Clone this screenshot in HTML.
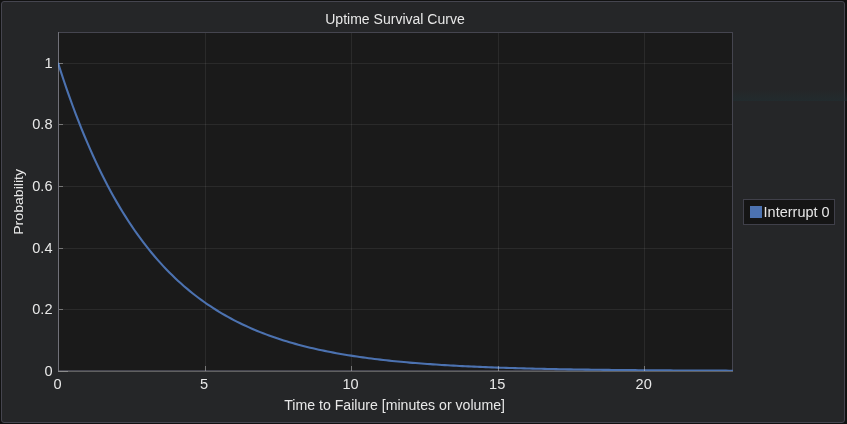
<!DOCTYPE html>
<html><head><meta charset="utf-8"><title>Uptime Survival Curve</title>
<style>
html,body{margin:0;padding:0;background:#111111;}
body{width:847px;height:424px;overflow:hidden;position:relative;font-family:"Liberation Sans",sans-serif;}
.panel{position:absolute;left:1px;top:1px;width:842px;height:420px;border:1px solid #45454f;border-radius:3px;background:#252628;}
svg{position:absolute;left:0;top:0;}
svg text{font-family:"Liberation Sans",sans-serif;font-size:14px;fill:#e8e8e8;}
</style></head><body>
<div class="panel"></div>
<svg width="847" height="424" viewBox="0 0 847 424">
<defs><linearGradient id="band" x1="0" y1="0" x2="0" y2="1"><stop offset="0" stop-color="#1f3034" stop-opacity="0"/><stop offset="1" stop-color="#1f3034" stop-opacity="0.5"/></linearGradient><clipPath id="plotclip"><rect x="58" y="32" width="675" height="340"/></clipPath></defs>
<rect x="733" y="89" width="114" height="12" fill="url(#band)"/>
<rect x="58.5" y="32.5" width="674" height="338" fill="#1a1a1a" stroke="#45454f" stroke-width="1"/>
<rect x="59" y="371" width="674" height="1" fill="#1a1a1a"/>
<g stroke="#ffffff" stroke-opacity="0.072" stroke-width="1" shape-rendering="crispEdges">
<line x1="205.5" y1="33" x2="205.5" y2="370" />
<line x1="351.5" y1="33" x2="351.5" y2="370" />
<line x1="498.5" y1="33" x2="498.5" y2="370" />
<line x1="644.5" y1="33" x2="644.5" y2="370" />
<line x1="59" y1="309.5" x2="732" y2="309.5" />
<line x1="59" y1="248.5" x2="732" y2="248.5" />
<line x1="59" y1="186.5" x2="732" y2="186.5" />
<line x1="59" y1="124.5" x2="732" y2="124.5" />
<line x1="59" y1="63.5" x2="732" y2="63.5" />
</g>
<path d="M58.00,62.82 L60.93,71.93 L63.86,80.77 L66.79,89.34 L69.72,97.67 L72.65,105.75 L75.58,113.58 L78.51,121.19 L81.44,128.58 L84.37,135.74 L87.30,142.69 L90.23,149.44 L93.17,155.99 L96.10,162.34 L99.03,168.51 L101.96,174.49 L104.89,180.30 L107.82,185.94 L110.75,191.41 L113.68,196.72 L116.61,201.87 L119.54,206.86 L122.47,211.72 L125.40,216.42 L128.33,220.99 L131.26,225.43 L134.19,229.73 L137.12,233.90 L140.05,237.95 L142.98,241.89 L145.91,245.70 L148.84,249.41 L151.77,253.00 L154.70,256.49 L157.63,259.87 L160.57,263.16 L163.50,266.34 L166.43,269.44 L169.36,272.44 L172.29,275.35 L175.22,278.18 L178.15,280.92 L181.08,283.58 L184.01,286.17 L186.94,288.67 L189.87,291.11 L192.80,293.47 L195.73,295.76 L198.66,297.98 L201.59,300.14 L204.52,302.24 L207.45,304.27 L210.38,306.24 L213.31,308.15 L216.24,310.01 L219.17,311.81 L222.10,313.56 L225.03,315.26 L227.97,316.91 L230.90,318.51 L233.83,320.06 L236.76,321.56 L239.69,323.02 L242.62,324.44 L245.55,325.82 L248.48,327.15 L251.41,328.45 L254.34,329.71 L257.27,330.93 L260.20,332.11 L263.13,333.26 L266.06,334.38 L268.99,335.46 L271.92,336.51 L274.85,337.53 L277.78,338.52 L280.71,339.48 L283.64,340.41 L286.57,341.31 L289.50,342.19 L292.43,343.04 L295.37,343.87 L298.30,344.67 L301.23,345.45 L304.16,346.20 L307.09,346.94 L310.02,347.65 L312.95,348.34 L315.88,349.01 L318.81,349.66 L321.74,350.29 L324.67,350.90 L327.60,351.49 L330.53,352.07 L333.46,352.63 L336.39,353.17 L339.32,353.70 L342.25,354.21 L345.18,354.71 L348.11,355.19 L351.04,355.66 L353.97,356.11 L356.90,356.55 L359.83,356.98 L362.77,357.39 L365.70,357.79 L368.63,358.18 L371.56,358.56 L374.49,358.93 L377.42,359.29 L380.35,359.63 L383.28,359.97 L386.21,360.30 L389.14,360.61 L392.07,360.92 L395.00,361.22 L397.93,361.51 L400.86,361.79 L403.79,362.06 L406.72,362.32 L409.65,362.58 L412.58,362.83 L415.51,363.07 L418.44,363.30 L421.37,363.53 L424.30,363.75 L427.23,363.97 L430.17,364.17 L433.10,364.38 L436.03,364.57 L438.96,364.76 L441.89,364.95 L444.82,365.13 L447.75,365.30 L450.68,365.47 L453.61,365.63 L456.54,365.79 L459.47,365.94 L462.40,366.09 L465.33,366.24 L468.26,366.38 L471.19,366.52 L474.12,366.65 L477.05,366.78 L479.98,366.90 L482.91,367.02 L485.84,367.14 L488.77,367.25 L491.70,367.36 L494.63,367.47 L497.57,367.58 L500.50,367.68 L503.43,367.78 L506.36,367.87 L509.29,367.96 L512.22,368.05 L515.15,368.14 L518.08,368.22 L521.01,368.31 L523.94,368.39 L526.87,368.46 L529.80,368.54 L532.73,368.61 L535.66,368.68 L538.59,368.75 L541.52,368.82 L544.45,368.88 L547.38,368.94 L550.31,369.00 L553.24,369.06 L556.17,369.12 L559.10,369.18 L562.03,369.23 L564.97,369.28 L567.90,369.33 L570.83,369.38 L573.76,369.43 L576.69,369.48 L579.62,369.52 L582.55,369.57 L585.48,369.61 L588.41,369.65 L591.34,369.69 L594.27,369.73 L597.20,369.77 L600.13,369.80 L603.06,369.84 L605.99,369.87 L608.92,369.91 L611.85,369.94 L614.78,369.97 L617.71,370.00 L620.64,370.03 L623.57,370.06 L626.50,370.09 L629.43,370.11 L632.37,370.14 L635.30,370.16 L638.23,370.19 L641.16,370.21 L644.09,370.24 L647.02,370.26 L649.95,370.28 L652.88,370.30 L655.81,370.32 L658.74,370.34 L661.67,370.36 L664.60,370.38 L667.53,370.40 L670.46,370.42 L673.39,370.43 L676.32,370.45 L679.25,370.47 L682.18,370.48 L685.11,370.50 L688.04,370.51 L690.97,370.53 L693.90,370.54 L696.83,370.55 L699.77,370.57 L702.70,370.58 L705.63,370.59 L708.56,370.61 L711.49,370.62 L714.42,370.63 L717.35,370.64 L720.28,370.65 L723.21,370.66 L726.14,370.67 L729.07,370.68 L732.00,370.69 L734.93,370.70" fill="none" stroke="#4c72b0" stroke-width="2.1" stroke-linejoin="round" stroke-linecap="butt" clip-path="url(#plotclip)"/>
<g stroke="#ffffff" stroke-opacity="0.36" stroke-width="1" shape-rendering="crispEdges">
<line x1="205.5" y1="366" x2="205.5" y2="371" />
<line x1="351.5" y1="366" x2="351.5" y2="371" />
<line x1="498.5" y1="366" x2="498.5" y2="371" />
<line x1="644.5" y1="366" x2="644.5" y2="371" />
<line x1="59" y1="309.5" x2="63" y2="309.5" />
<line x1="59" y1="248.5" x2="63" y2="248.5" />
<line x1="59" y1="186.5" x2="63" y2="186.5" />
<line x1="59" y1="124.5" x2="63" y2="124.5" />
<line x1="59" y1="63.5" x2="63" y2="63.5" />
</g>
<rect x="58" y="371" width="675" height="1" fill="#606060"/>
<rect x="58" y="32" width="1" height="340" fill="#ffffff" fill-opacity="0.24"/>
<rect x="58" y="371" width="10" height="1" fill="#8c8c8c"/>
<g>
<text transform="translate(57.6,389) scale(1.04,1)" text-anchor="middle">0</text>
<text transform="translate(204.1,389) scale(1.04,1)" text-anchor="middle">5</text>
<text transform="translate(350.6,389) scale(1.04,1)" text-anchor="middle">10</text>
<text transform="translate(497.2,389) scale(1.04,1)" text-anchor="middle">15</text>
<text transform="translate(643.7,389) scale(1.04,1)" text-anchor="middle">20</text>
<text transform="translate(52.5,375.9) scale(1.04,1)" text-anchor="end">0</text>
<text transform="translate(52.5,314.3) scale(1.04,1)" text-anchor="end">0.2</text>
<text transform="translate(52.5,252.6) scale(1.04,1)" text-anchor="end">0.4</text>
<text transform="translate(52.5,191.0) scale(1.04,1)" text-anchor="end">0.6</text>
<text transform="translate(52.5,129.4) scale(1.04,1)" text-anchor="end">0.8</text>
<text transform="translate(52.5,67.7) scale(1.04,1)" text-anchor="end">1</text>
</g>
<text x="325.2" y="23.7" textLength="139.6" lengthAdjust="spacingAndGlyphs">Uptime Survival Curve</text>
<text x="284.2" y="410.3" textLength="220.8" lengthAdjust="spacingAndGlyphs">Time to Failure [minutes or volume]</text>
<text transform="translate(23.3,234.8) rotate(-90)" textLength="65.8" lengthAdjust="spacingAndGlyphs" style="font-size:13.5px">Probability</text>
<rect x="743.5" y="199.5" width="91" height="25" fill="#151515" stroke="#40404a" stroke-width="1"/>
<rect x="750" y="206" width="12" height="12" fill="#4c72b0"/>
<text x="763.6" y="217" textLength="66" lengthAdjust="spacingAndGlyphs">Interrupt 0</text>
</svg>
</body></html>
